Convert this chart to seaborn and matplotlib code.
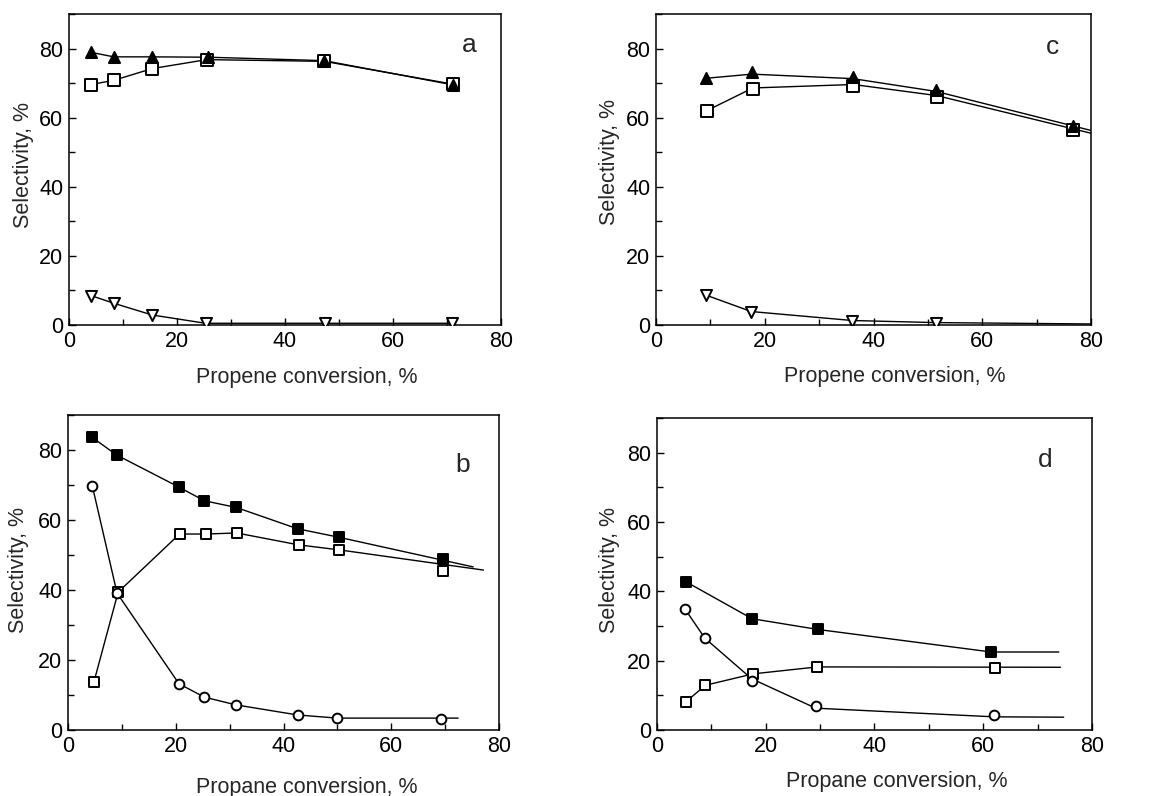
import numpy as np
import pandas as pd
import matplotlib
matplotlib.use('Agg')
import matplotlib.pyplot as plt
import seaborn as sns
from matplotlib.ticker import MultipleLocator

# =====================
# DATA
# markers = measured points, *_lx / *_ly = the drawn curve
# =====================
# panel a: propene conversion
a_x_tri  = [4.1, 8.3, 15.4, 25.7, 47.3, 71.1]
a_y_tri  = [78.9, 77.6, 77.6, 77.5, 76.5, 69.5]
a_x_sq   = [4.1, 8.3, 15.4, 25.5, 47.3, 71.1]
a_y_sq   = [69.6, 70.8, 74.2, 76.8, 76.3, 69.7]
a_x_dn   = [4.1, 8.3, 15.4, 25.3, 47.5, 71.0]
a_y_dn   = [8.5, 6.3, 2.9, 0.5, 0.5, 0.5]

# panel c: propene conversion (curves run on to the frame)
c_x_tri  = [9.2, 17.6, 36.2, 51.5, 76.6]
c_y_tri  = [71.4, 73.1, 71.8, 67.9, 57.7]
c_x_sq   = [9.3, 17.8, 36.3, 51.6, 76.6]
c_y_sq   = [62.0, 68.3, 69.3, 65.9, 56.3]
c_x_dn   = [9.1, 17.5, 36.1, 51.4]
c_y_dn   = [8.7, 3.9, 1.3, 0.7]
c_tri_lx = [9.2, 17.6, 36.2, 51.5, 80.0]
c_tri_ly = [71.4, 72.6, 71.3, 67.6, 56.3]
c_sq_lx  = [9.3, 17.8, 36.3, 51.6, 80.0]
c_sq_ly  = [62.0, 68.6, 69.6, 66.4, 55.5]
c_dn_lx  = [9.1, 17.5, 36.1, 51.4, 80.0]
c_dn_ly  = [8.7, 3.9, 1.3, 0.7, 0.3]

# panel b: propane conversion
b_x_fsq  = [4.5, 9.0, 20.6, 25.3, 31.2, 42.6, 50.2, 69.5]
b_y_fsq  = [83.6, 78.6, 69.4, 65.5, 63.6, 57.5, 55.1, 49.0]
b_x_osq  = [4.8, 9.3, 20.7, 25.6, 31.3, 42.8, 50.2, 69.5]
b_y_osq  = [13.7, 39.4, 56.0, 56.0, 56.3, 52.9, 51.5, 45.4]
b_x_cir  = [4.5, 9.1, 20.6, 25.3, 31.1, 42.6, 50.0, 69.3]
b_y_cir  = [69.8, 39.1, 13.2, 9.4, 7.2, 4.3, 3.4, 3.1]
b_fsq_lx = [4.5, 9.0, 20.6, 25.3, 31.2, 42.6, 50.2, 75.2]
b_fsq_ly = [83.6, 78.6, 69.4, 65.5, 63.6, 57.5, 55.1, 46.6]
b_osq_lx = [4.8, 9.3, 20.7, 25.6, 31.3, 42.8, 50.2, 77.1]
b_osq_ly = [13.7, 39.4, 56.0, 56.0, 56.3, 52.9, 51.5, 45.7]
b_cir_lx = [4.5, 9.1, 20.6, 25.3, 31.1, 42.6, 50.0, 72.4]
b_cir_ly = [69.8, 39.1, 13.2, 9.4, 7.2, 4.3, 3.4, 3.4]

# panel d: propane conversion
d_x_fsq  = [5.4, 17.5, 29.6, 61.5]
d_y_fsq  = [42.7, 32.1, 29.0, 22.5]
d_x_osq  = [5.3, 8.9, 17.7, 29.5, 62.2]
d_y_osq  = [8.1, 12.9, 16.2, 18.2, 17.8]
d_x_cir  = [5.2, 8.8, 17.4, 29.2, 62.0]
d_y_cir  = [34.8, 26.5, 14.2, 6.8, 4.3]
d_fsq_lx = [5.4, 17.5, 29.6, 61.5, 73.9]
d_fsq_ly = [42.7, 32.1, 29.0, 22.5, 22.5]
d_osq_lx = [5.3, 8.9, 17.7, 29.5, 74.2]
d_osq_ly = [8.1, 12.9, 16.2, 18.2, 18.1]
d_cir_lx = [5.2, 8.8, 17.4, 29.2, 62.0, 74.8]
d_cir_ly = [34.8, 26.5, 14.8, 6.3, 3.8, 3.7]

# =====================
# STYLE
# =====================
sns.set_theme(style='ticks')
plt.rcParams['font.family'] = ['Liberation Sans', 'DejaVu Sans']
plt.rcParams['axes.linewidth'] = 1.1
FS = 15.5

fig = plt.figure(figsize=(11.55, 7.96), dpi=100)
ax_a = fig.add_axes([0.0597, 0.5917, 0.3740, 0.3907])
ax_c = fig.add_axes([0.5680, 0.5917, 0.3766, 0.3907])
ax_b = fig.add_axes([0.0589, 0.0829, 0.3732, 0.3957])
ax_d = fig.add_axes([0.5688, 0.0829, 0.3766, 0.3920])


def series(ax, x, y, marker, filled, lx=None, ly=None, ms=8):
    if lx is None:
        lx, ly = x, y
    sns.lineplot(x=lx, y=ly, ax=ax, color='black', lw=1.0, sort=False,
                 estimator=None)
    sns.scatterplot(x=x, y=y, ax=ax, marker=marker, s=ms ** 2,
                    facecolor='black' if filled else 'white',
                    edgecolor='black', linewidth=1.4, zorder=3)


def style(ax, xlabel, letter, lpos, xlab_pos, ylab_pos):
    ax.set_xlim(0, 80)
    ax.set_ylim(0, 90)
    ax.xaxis.set_major_locator(MultipleLocator(20))
    ax.xaxis.set_minor_locator(MultipleLocator(10))
    ax.yaxis.set_major_locator(MultipleLocator(20))
    ax.yaxis.set_minor_locator(MultipleLocator(10))
    ax.tick_params(which='both', direction='in', top=False, right=False,
                   labelsize=FS, colors='black', width=1.0)
    ax.tick_params(which='major', length=5, pad=4)
    ax.tick_params(which='minor', length=4)
    for sp in ax.spines.values():
        sp.set_visible(True)
        sp.set_color('black')
    ax.set_xlabel(xlabel, fontsize=FS, va='center', ha='center')
    ax.set_ylabel('Selectivity, %', fontsize=FS, va='center', ha='center')
    ax.xaxis.set_label_coords(*xlab_pos)
    ax.yaxis.set_label_coords(*ylab_pos)
    ax.text(lpos[0], lpos[1], letter, transform=ax.transAxes,
            fontsize=19, ha='center', va='center')


# a
series(ax_a, a_x_sq, a_y_sq, 's', False)
series(ax_a, a_x_tri, a_y_tri, '^', True)
series(ax_a, a_x_dn, a_y_dn, 'v', False)
style(ax_a, 'Propene conversion, %', 'a', (0.926, 0.90),
      (0.550, -0.170), (-0.106, 0.514))

# c
series(ax_c, c_x_sq, c_y_sq, 's', False, c_sq_lx, c_sq_ly)
series(ax_c, c_x_tri, c_y_tri, '^', True, c_tri_lx, c_tri_ly)
series(ax_c, c_x_dn, c_y_dn, 'v', False, c_dn_lx, c_dn_ly)
style(ax_c, 'Propene conversion, %', 'c', (0.912, 0.895),
      (0.549, -0.167), (-0.106, 0.525))

# b
series(ax_b, b_x_fsq, b_y_fsq, 's', True, b_fsq_lx, b_fsq_ly, ms=7.5)
series(ax_b, b_x_osq, b_y_osq, 's', False, b_osq_lx, b_osq_ly, ms=7.5)
series(ax_b, b_x_cir, b_y_cir, 'o', False, b_cir_lx, b_cir_ly, ms=7)
style(ax_b, 'Propane conversion, %', 'b', (0.916, 0.84),
      (0.553, -0.181), (-0.116, 0.508))

# d
series(ax_d, d_x_fsq, d_y_fsq, 's', True, d_fsq_lx, d_fsq_ly, ms=7.5)
series(ax_d, d_x_osq, d_y_osq, 's', False, d_osq_lx, d_osq_ly, ms=7.5)
series(ax_d, d_x_cir, d_y_cir, 'o', False, d_cir_lx, d_cir_ly, ms=7)
style(ax_d, 'Propane conversion, %', 'd', (0.893, 0.865),
      (0.551, -0.166), (-0.110, 0.513))

fig.savefig('out.png', dpi=100, facecolor='white')
